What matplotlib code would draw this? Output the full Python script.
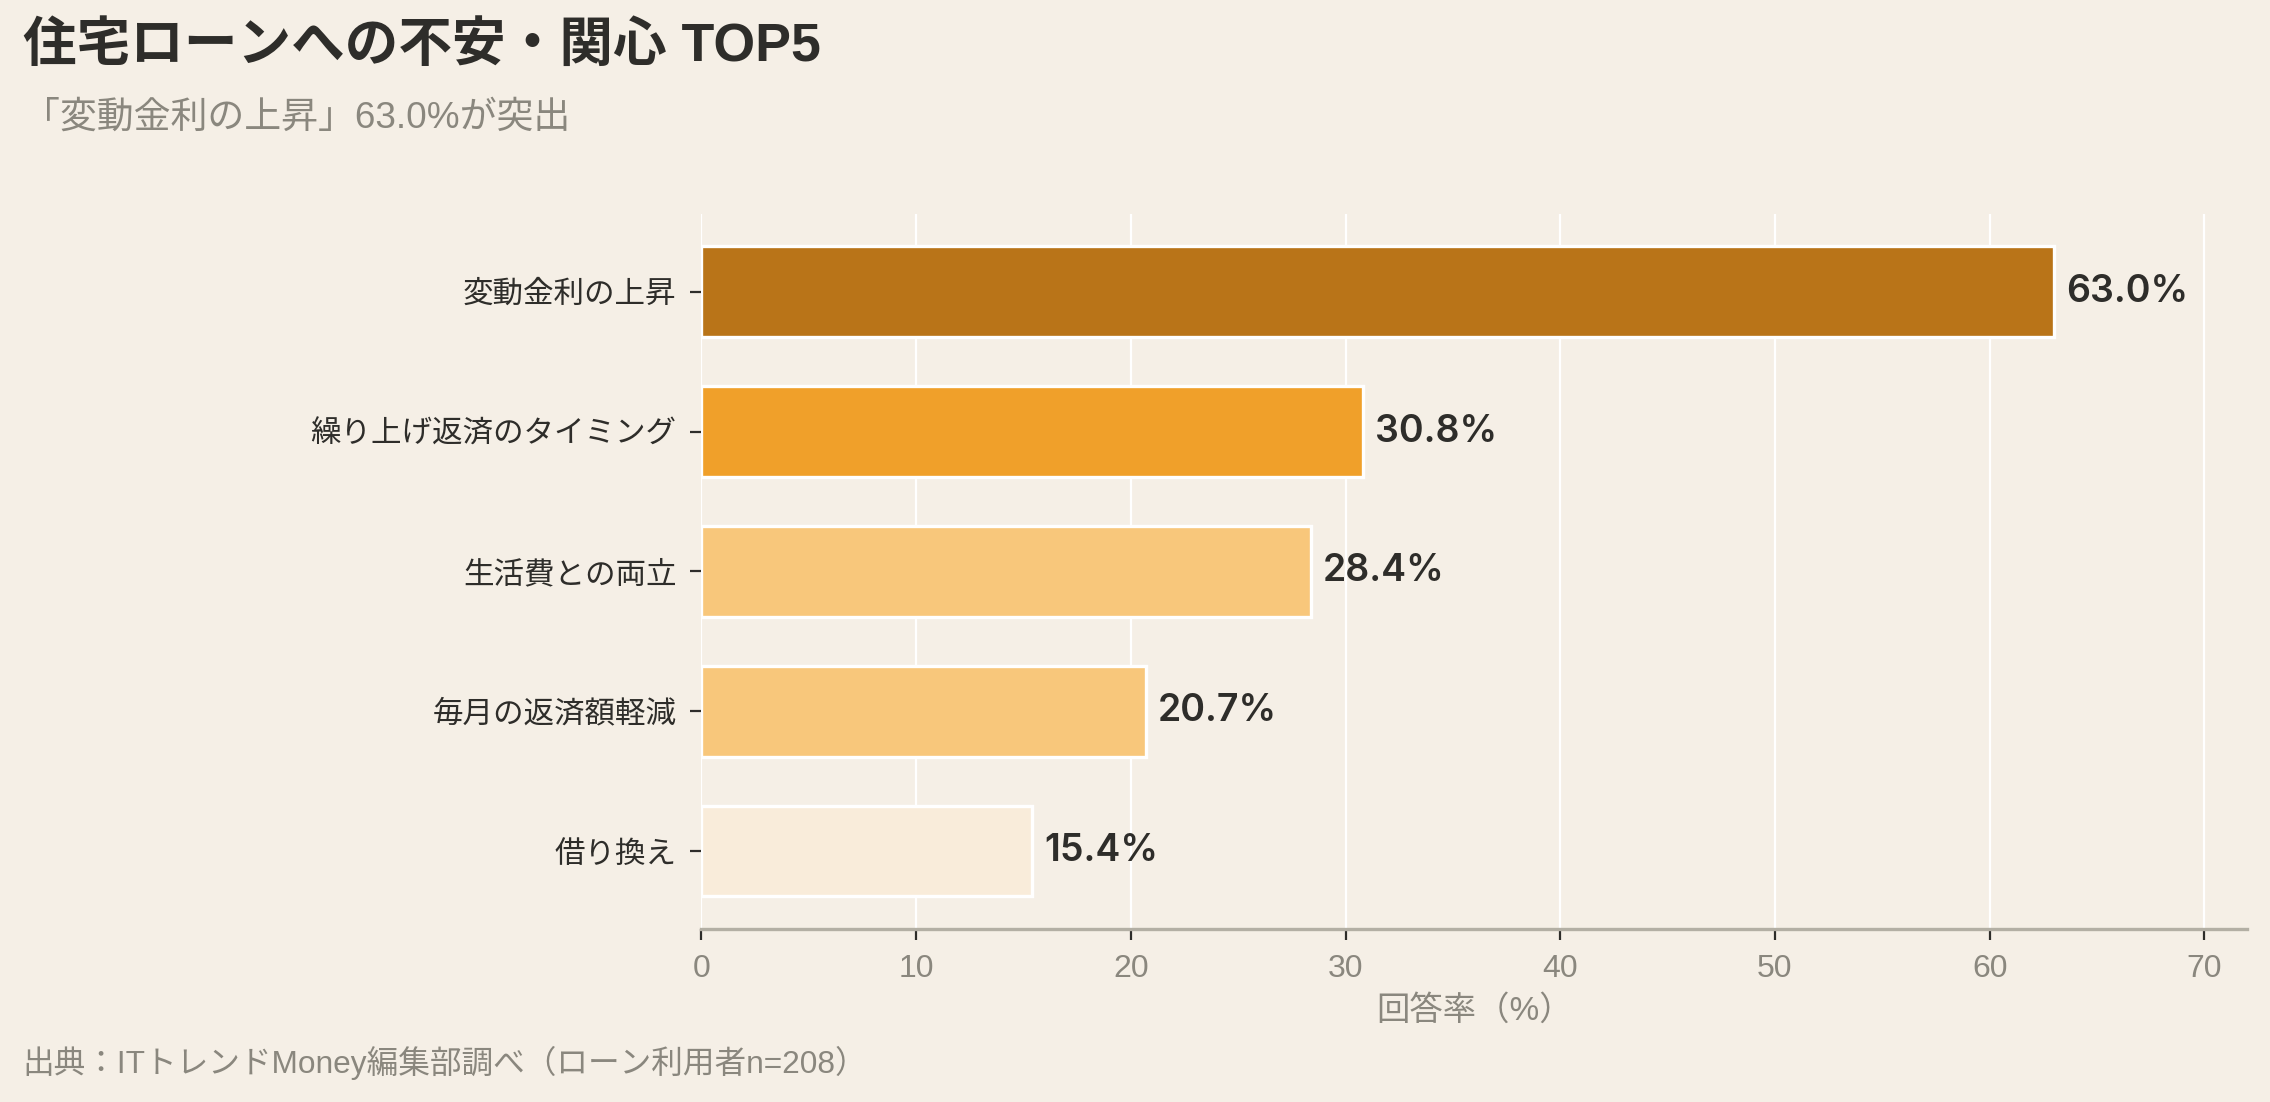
import matplotlib
matplotlib.use("Agg")
import matplotlib.pyplot as plt

# data
categories = ["変動金利の上昇", "繰り上げ返済のタイミング", "生活費との両立", "毎月の返済額軽減", "借り換え"]
values = [63.0, 30.8, 28.4, 20.7, 15.4]
bar_colors = ["#B97418", "#F0A02A", "#F8C77B", "#F8C77B", "#F9ECDA"]
x_ticks = [0, 10, 20, 30, 40, 50, 60, 70]

title = "住宅ローンへの不安・関心 TOP5"
subtitle = "「変動金利の上昇」63.0%が突出"
xlabel = "回答率（%）"
source = "出典：ITトレンドMoney編集部調べ（ローン利用者n=208）"

bg = "#F5EFE6"
dark = "#2E2D2A"
gray = "#8A877E"

plt.rcParams['font.family'] = ['Liberation Sans', 'Noto Sans CJK JP']

fig = plt.figure(figsize=(11.35, 5.51), dpi=200, facecolor=bg)
ax = fig.add_axes([0.309, 0.157, 0.681, 0.649])
ax.set_facecolor(bg)

ypos = list(range(len(categories)))
ax.barh(ypos, values, height=0.65, color=bar_colors, edgecolor="white", linewidth=1.2, zorder=3)
ax.invert_yaxis()
ax.set_yticks(ypos)
ax.set_yticklabels(categories, fontsize=11, color=dark)

for y, v in zip(ypos, values):
    ax.text(v + 0.55, y, f"{v:.1f}%", va="center", ha="left", fontsize=13.5,
            fontweight="semibold", family=["Inter", "DejaVu Sans"], color=dark, zorder=4)

ax.set_xlim(0, 72)
ax.set_xticks(x_ticks)
ax.set_xticklabels([str(t) for t in x_ticks], fontsize=11.5, color=gray)
ax.set_xlabel(xlabel, fontsize=12, color=gray, labelpad=4)

ax.grid(axis="x", color="white", linewidth=0.8, zorder=0)
ax.grid(axis="y", visible=False)
for s in ["top", "right", "left"]:
    ax.spines[s].set_visible(False)
ax.spines["bottom"].set_color("#B3AFA4")
ax.spines["bottom"].set_linewidth(1.2)
ax.tick_params(axis="y", length=4, width=0.8, color=dark, pad=5)
ax.tick_params(axis="x", length=4, width=0.8, color=dark, pad=5)

fig.text(0.010, 0.958, title, fontsize=19.3, fontweight="bold", color=dark, va="center", ha="left")
fig.text(0.010, 0.893, subtitle, fontsize=13.3, color=gray, va="center", ha="left")
fig.text(0.010, 0.035, source, fontsize=11.4, color=gray, va="center", ha="left")

fig.savefig("out.png", dpi=200, facecolor=bg)
